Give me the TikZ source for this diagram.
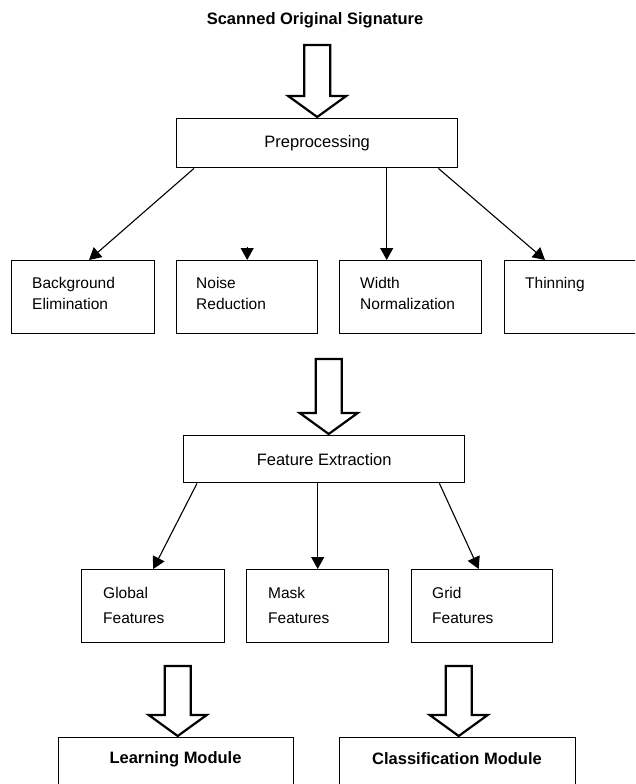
\documentclass[tikz,border=0pt]{standalone}
\usepackage{fontspec}
\setmainfont{Liberation Sans}
\usetikzlibrary{arrows.meta}
\begin{document}
\begin{tikzpicture}[x=1pt,y=-1pt,
  box/.style={draw, line width=1.4pt, rectangle, inner sep=0pt, anchor=north west},
  midtxt/.style={font=\fontsize{16.5}{20}\selectfont},
  smalltxt/.style={inner sep=0pt, anchor=north west, align=left, font=\fontsize{15.5}{21}\selectfont},
  lowtxt/.style={inner sep=0pt, anchor=north west, align=left, font=\fontsize{15.5}{25}\selectfont},
  boldtxt/.style={inner sep=0pt, font=\fontsize{16.5}{20}\selectfont\bfseries},
  arr/.style={line width=1.1pt, -{Triangle[length=12pt,width=13pt]}},
  barrow/.pic={\draw[line width=2.2pt, line join=miter, fill=white]
     (-13,-#1) -- (-13,-21) -- (-29,-21) -- (0,0) -- (29,-21) -- (13,-21) -- (13,-#1) -- cycle;}
]
\useasboundingbox (0,0) rectangle (635,784);
\clip (0,0) rectangle (635,784);
\fill[white] (0,0) rectangle (635,784);

% title
\node[boldtxt] (title) at (315,20) {Scanned Original Signature};

% preprocessing
\node[box, midtxt, minimum width=281, minimum height=49] (pre) at (176,118) {Preprocessing};
\pic at ([yshift=1]pre.north) {barrow=72};

% level 2 boxes
\node[box, minimum width=143, minimum height=73] (bg) at (11,260) {};
\node[box, minimum width=141, minimum height=73] (noi) at (176,260) {};
\node[box, minimum width=142, minimum height=73] (wid) at (339,260) {};
\node[box, minimum width=140, minimum height=73] (thin) at (504,260) {};

\node[smalltxt] (bgt) at ([xshift=21,yshift=-17]bg.north west) {Background\\Elimination};
\node[smalltxt] (noit) at ([xshift=20,yshift=-17]noi.north west) {Noise\\Reduction};
\node[smalltxt] (widt) at ([xshift=21,yshift=-17]wid.north west) {Width\\Normalization};
\node[smalltxt] (thint) at ([xshift=21,yshift=-17]thin.north west) {Thinning};

\coordinate (w1) at ([xshift=-24]wid.north);
\draw[arr] ([xshift=18]pre.south west) -- ([xshift=78]bg.north west);
\draw[arr] ([yshift=13]noi.north) -- (noi.north);
\draw[arr] (pre.south -| w1) -- (w1);
\draw[arr] ([xshift=-20]pre.south east) -- ([xshift=41]thin.north west);

% feature extraction
\node[box, midtxt, minimum width=281, minimum height=47] (fe) at (183,435) {Feature Extraction};
\pic at ([xshift=4.5,yshift=1]fe.north) {barrow=75};

\node[box, minimum width=143, minimum height=73] (glo) at (81,569) {};
\node[box, minimum width=142, minimum height=73] (mask) at (246,569) {};
\node[box, minimum width=141, minimum height=73] (grid) at (411,569) {};

\node[lowtxt] (glot) at ([xshift=22,yshift=-18]glo.north west) {Global\\Features};
\node[lowtxt] (maskt) at ([xshift=22,yshift=-18]mask.north west) {Mask\\Features};
\node[lowtxt] (gridt) at ([xshift=21,yshift=-18]grid.north west) {Grid\\Features};

\draw[arr] ([xshift=14]fe.south west) -- (glo.north);
\draw[arr] (fe.south -| mask.north) -- (mask.north);
\draw[arr] ([xshift=-26]fe.south east) -- ([xshift=-3.5]grid.north);

% modules
\node[box, minimum width=235, minimum height=53] (lm) at (58,737) {};
\node[box, minimum width=236, minimum height=53] (cm) at (339,737) {};
\node[boldtxt] (lmt) at (175.5,759) {Learning Module};
\node[boldtxt] (cmt) at (457,759) {Classification Module};

\pic at ([xshift=1.5,yshift=1]lm.north) {barrow=70};
\pic at ([xshift=1,yshift=1]cm.north) {barrow=70};
\end{tikzpicture}
\end{document}
